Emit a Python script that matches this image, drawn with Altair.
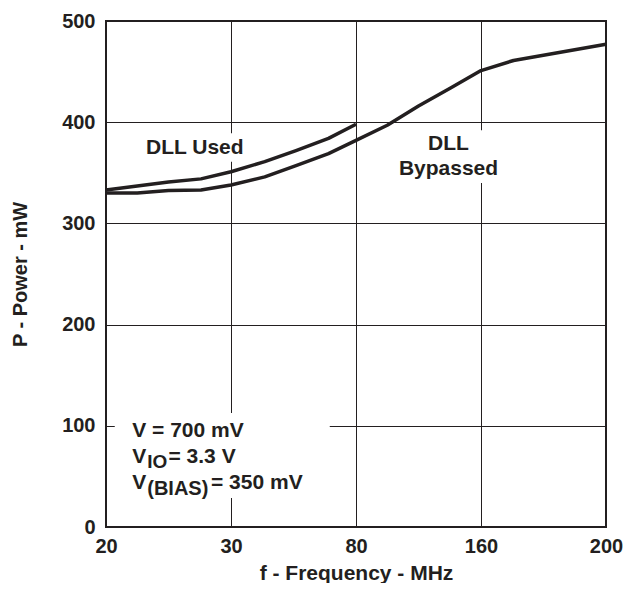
import json
import altair as alt
import pandas as pd

# ---- data ----
freq_labels = ["20", "30", "80", "160", "200"]          # evenly spaced tick labels (MHz)
freq_pos = [0, 1, 2, 3, 4]

used_x = [0, 0.25, 0.5, 0.76, 1.0, 1.27, 1.52, 1.78, 2.0]
used_y = [333, 337, 341, 344, 351, 361, 372, 384, 398]

bypass_x = [0, 0.25, 0.5, 0.76, 1.0, 1.27, 1.52, 1.78, 2.0, 2.25, 2.5, 2.76, 3.0, 3.26, 4.0]
bypass_y = [330, 330, 332.5, 333, 338, 346, 357, 369, 382, 397, 416, 434, 451, 461, 477]

power_ticks = [0, 100, 200, 300, 400, 500]

# annotation texts (left aligned)
ann_text = ["DLL Used", "V = 700 mV", "V", "IO", "= 3.3 V", "V", "(BIAS)", "= 350 mV"]
ann_x = [0.32, 0.21, 0.21, 0.33, 0.50, 0.21, 0.33, 0.84]
ann_y = [368.6, 88.9, 63.2, 58.3, 63.2, 37.5, 31.6, 37.5]
ann_size = [21, 21, 21, 19, 21, 21, 20, 21]

# annotation texts (centered)
ctr_text = ["DLL", "Bypassed"]
ctr_x = [2.74, 2.74]
ctr_y = [372.5, 347.8]
ctr_size = [21, 21]

# white backgrounds behind annotation blocks
box_x1 = [0.07, 0.31, 2.34]
box_x2 = [1.79, 1.10, 3.14]
box_y1 = [28.7, 361, 340]
box_y2 = [112.6, 389, 392]

INK = "#231f20"
FONT = "Liberation Sans"

lines_df = pd.concat([
    pd.DataFrame({"x": used_x, "y": used_y, "series": "DLL Used"}),
    pd.DataFrame({"x": bypass_x, "y": bypass_y, "series": "DLL Bypassed"}),
])
ann_df = pd.DataFrame({"x": ann_x, "y": ann_y, "text": ann_text, "size": ann_size})
ctr_df = pd.DataFrame({"x": ctr_x, "y": ctr_y, "text": ctr_text, "size": ctr_size})
box_df = pd.DataFrame({"x": box_x1, "x2": box_x2, "y": box_y1, "y2": box_y2})

label_expr = json.dumps(freq_labels) + "[datum.value]"

W, H = 500, 506

x_axis = alt.Axis(
    values=freq_pos, labelExpr=label_expr, title="f - Frequency - MHz",
    labelFlush=False, labelOverlap=False, labelPadding=9,
    titleX=W / 2, titleY=52, titleBaseline="alphabetic", titleAlign="center",
    titleFontSize=21,
)
y_axis = alt.Axis(
    values=power_ticks, title="P - Power - mW", labelPadding=11,
    titleX=-86, titleY=H / 2, titleAngle=270, titleBaseline="middle",
    titleAlign="center", titleFontSize=20,
)
x_scale = alt.Scale(domain=[0, 4], nice=False, zero=False)
y_scale = alt.Scale(domain=[0, 500], nice=False)


def X(field="x"):
    return alt.X(f"{field}:Q", scale=x_scale, axis=x_axis, title="f - Frequency - MHz")


def Y(field="y"):
    return alt.Y(f"{field}:Q", scale=y_scale, axis=y_axis, title="P - Power - mW")


lines = alt.Chart(lines_df).mark_line(color=INK, strokeWidth=3.5, strokeJoin="round").encode(
    x=X(), y=Y(), detail="series:N"
)

boxes = alt.Chart(box_df).mark_rect(color="white").encode(
    x=X(), x2="x2:Q", y=Y(), y2="y2:Q"
)

ann = alt.Chart(ann_df).mark_text(
    align="left", baseline="alphabetic", font=FONT, fontWeight="bold", color=INK
).encode(x=X(), y=Y(), text="text:N", size=alt.Size("size:Q", scale=None, legend=None))

ctr = alt.Chart(ctr_df).mark_text(
    align="center", baseline="alphabetic", font=FONT, fontWeight="bold", color=INK
).encode(x=X(), y=Y(), text="text:N", size=alt.Size("size:Q", scale=None, legend=None))

chart = alt.layer(boxes, lines, ann, ctr).properties(
    width=W, height=H,
    autosize=alt.AutoSizeParams(type="none"),
    padding={"left": 98, "top": 13, "right": 17, "bottom": 56},
).configure_view(
    stroke=INK, strokeWidth=2
).configure_axis(
    domain=False, ticks=False, grid=True, gridColor=INK, gridWidth=1, gridOpacity=1,
    labelFont=FONT, labelFontWeight="bold", labelFontSize=20, labelColor=INK,
    titleFont=FONT, titleFontWeight="bold", titleColor=INK,
)

chart.save("out.html", embed_options={"renderer": "svg", "actions": False})
